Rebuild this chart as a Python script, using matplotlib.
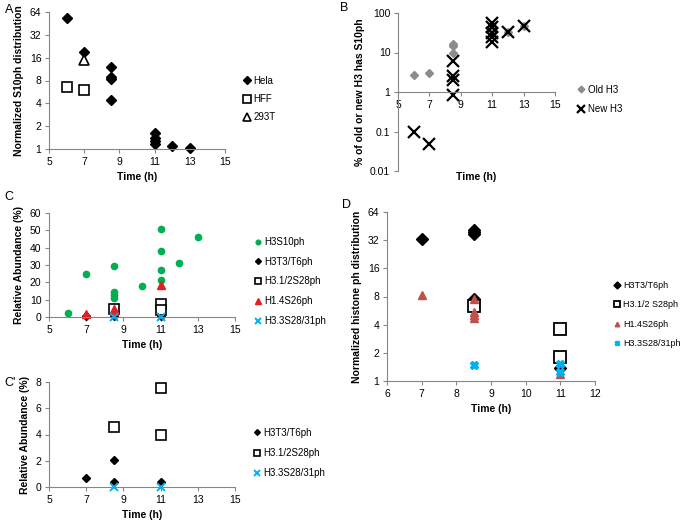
import numpy as np
import matplotlib.pyplot as plt
from matplotlib.ticker import FixedLocator, FixedFormatter, NullLocator

plt.rcParams['font.family'] = ['Liberation Sans', 'DejaVu Sans']
plt.rcParams['font.size'] = 7

# ---- panel A: normalized S10ph distribution
a_hela_t = [6, 7, 8.5, 8.5, 8.5, 8.5, 11, 11, 11, 11, 12, 13]
a_hela_y = [53, 19, 12.1, 9.0, 8.3, 4.45, 1.61, 1.41, 1.29, 1.15, 1.1, 1.03]
a_hff_t = [6, 7]
a_hff_y = [6.5, 6.0]
a_293t_t = [7]
a_293t_y = [14.7]

# ---- panel B: % of old or new H3 with S10ph
b_old_t = [6, 7, 8.5, 8.5, 8.5, 11, 11, 11, 12, 13]
b_old_y = [2.7, 3.0, 16.6, 14.8, 9.8, 50, 40, 30, 34, 46]
b_new_t = [6, 7, 8.5, 8.5, 8.5, 8.5, 11, 11, 11, 11, 11, 12, 13]
b_new_y = [0.10, 0.049, 6.1, 2.6, 2.0, 0.82, 55, 44, 31, 25, 18.4, 33, 46]

# ---- panel C / C': relative abundance (%)
c_s10_t = [6, 7, 8.5, 8.5, 8.5, 8.5, 10, 11, 11, 11, 11, 12, 13]
c_s10_y = [2.3, 24.9, 29.4, 14.2, 12.6, 11.1, 17.8, 50.5, 37.9, 27.4, 21.6, 31.4, 46.4]
c_t3_t = [7, 8.5, 8.5, 11]
c_t3_y = [0.66, 2.03, 0.38, 0.38]
c_s28_t = [8.5, 11, 11]
c_s28_y = [4.55, 7.57, 3.96]
c_h1_t = [7, 8.5, 8.5, 11]
c_h1_y = [1.6, 4.8, 3.2, 18.4]
c_h33_t = [8.5, 11]
c_h33_y = [0.02, 0.02]

# ---- panel D: normalized histone ph distribution
d_t3_t = [7, 8.5, 8.5, 8.5, 8.5, 11]
d_t3_y = [33, 41, 39, 37, 7.5, 1.39]
d_s28_t = [8.5, 11, 11]
d_s28_y = [6.4, 3.6, 1.81]
d_h1_t = [7, 8.5, 8.5, 8.5, 8.5, 11]
d_h1_y = [8.3, 7.6, 5.5, 5.1, 4.66, 1.2]
d_h33_t = [8.5, 11, 11]
d_h33_y = [1.48, 1.53, 1.25]

pow2_ticks = [1, 2, 4, 8, 16, 32, 64]

GREEN = '#00b050'
RED = '#e31e24'
DRED = '#c0504d'
BLUE = '#00b0f0'
GRAY = '#8c8c8c'
SPINE = '#868686'

fig = plt.figure(figsize=(6.83, 5.23), dpi=100)
W, H = 683.0, 523.0


def add_axes(x0, x1, ytop, ybot):
    ax = fig.add_axes([x0 / W, 1 - ybot / H, (x1 - x0) / W, (ybot - ytop) / H])
    for s in ['top', 'right']:
        ax.spines[s].set_visible(False)
    for s in ['left', 'bottom']:
        ax.spines[s].set_color(SPINE)
        ax.spines[s].set_linewidth(0.8)
    ax.tick_params(direction='out', length=3, width=0.8, color=SPINE,
                   labelsize=7.5, pad=2.5)
    return ax


def set_log_ticks(ax, ticks, labels):
    ax.yaxis.set_major_locator(FixedLocator(ticks))
    ax.yaxis.set_major_formatter(FixedFormatter(labels))
    ax.yaxis.set_minor_locator(NullLocator())


def legend(ax, xl, yc, spacing=0.95, fs=7, mscale=0.75):
    ax.legend(loc='center left', bbox_to_anchor=(xl / W, 1 - yc / H),
              bbox_transform=fig.transFigure, frameon=False, fontsize=fs,
              handlelength=0.9, handletextpad=0.2, labelspacing=spacing,
              borderpad=0, borderaxespad=0, markerscale=mscale)


# A
ax = add_axes(49, 225, 12, 149)
ax.set_yscale('log', base=2)
ax.plot(a_hela_t, a_hela_y, 'D', color='black', ms=5.5, ls='none', label='Hela', clip_on=False)
ax.plot(a_hff_t, a_hff_y, 's', mfc='white', mec='black', mew=1.2, ms=7.5, ls='none', label='HFF', clip_on=False)
ax.plot(a_293t_t, a_293t_y, '^', mfc='white', mec='black', mew=1.2, ms=7.5, ls='none', label='293T', clip_on=False)
ax.set_xlim(5, 15)
ax.set_xticks([5, 7, 9, 11, 13, 15])
ax.set_ylim(1, 64)
set_log_ticks(ax, pow2_ticks, [str(v) for v in pow2_ticks])
ax.set_xlabel('Time (h)', fontweight='bold', fontsize=7.5)
ax.set_ylabel('Normalized S10ph distribution', fontweight='bold', fontsize=7.5)
legend(ax, 243, 99, 0.85)

# B
ax = add_axes(398, 555, 13, 171)
ax.set_yscale('log')
ax.plot(b_old_t, b_old_y, 'D', color=GRAY, ms=4.5, ls='none', label='Old H3', clip_on=False)
ax.plot(b_new_t, b_new_y, 'x', color='black', mew=1.6, ms=8, ls='none', label='New H3', clip_on=False)
ax.set_xlim(5, 15)
ax.set_xticks([5, 7, 9, 11, 13, 15])
ax.set_ylim(0.01, 100)
set_log_ticks(ax, [0.01, 0.1, 1, 10, 100], ['0.01', '0.1', '1', '10', '100'])
ax.spines['bottom'].set_position(('data', 1))
ax.set_xlabel('Time (h)', fontweight='bold', fontsize=7.5, va='top')
ax.xaxis.set_label_coords(0.5, -0.005)
ax.set_ylabel('% of old or new H3 has S10ph', fontweight='bold', fontsize=7.5)
legend(ax, 577, 99.5, 0.95)

# C
ax = add_axes(49, 235, 213, 317)
ax.plot(c_s10_t, c_s10_y, 'o', color=GREEN, ms=4.5, ls='none', label='H3S10ph', clip_on=False)
ax.plot(c_t3_t, c_t3_y, 'D', color='black', ms=4, ls='none', label='H3T3/T6ph', clip_on=False)
ax.plot(c_s28_t, c_s28_y, 's', mfc='white', mec='black', mew=1.2, ms=6.5, ls='none', label='H3.1/2S28ph', clip_on=False)
ax.plot(c_h1_t, c_h1_y, '^', color=RED, ms=5.5, ls='none', label='H1.4S26ph', clip_on=False)
ax.plot(c_h33_t, c_h33_y, 'x', color=BLUE, mew=1.4, ms=6, ls='none', label='H3.3S28/31ph', clip_on=False)
ax.set_xlim(5, 15)
ax.set_xticks([5, 7, 9, 11, 13, 15])
ax.set_ylim(0, 60)
ax.set_yticks(np.arange(0, 61, 10))
ax.set_xlabel('Time (h)', fontweight='bold', fontsize=7.5)
ax.set_ylabel('Relative Abundance (%)', fontweight='bold', fontsize=7.5)
legend(ax, 254, 281.5, 1.0)

# C'
ax = add_axes(49, 235, 382, 487)
ax.plot(c_t3_t, c_t3_y, 'D', color='black', ms=4.5, ls='none', label='H3T3/T6ph', clip_on=False)
ax.plot(c_s28_t, c_s28_y, 's', mfc='white', mec='black', mew=1.2, ms=7.5, ls='none', label='H3.1/2S28ph', clip_on=False)
ax.plot(c_h33_t, c_h33_y, 'x', color=BLUE, mew=1.4, ms=6, ls='none', label='H3.3S28/31ph', clip_on=False)
ax.set_xlim(5, 15)
ax.set_xticks([5, 7, 9, 11, 13, 15])
ax.set_ylim(0, 8)
ax.set_yticks([0, 2, 4, 6, 8])
ax.set_xlabel('Time (h)', fontweight='bold', fontsize=7.5)
ax.set_ylabel('Relative Abundance (%)', fontweight='bold', fontsize=7.5)
legend(ax, 253, 453, 1.05, mscale=0.65)

# D
ax = add_axes(387, 595, 212, 381)
ax.set_yscale('log', base=2)
ax.plot(d_t3_t, d_t3_y, 'D', color='black', ms=6.5, ls='none', label='H3T3/T6ph', clip_on=False)
ax.plot(d_s28_t, d_s28_y, 's', mfc='white', mec='black', mew=1.3, ms=8, ls='none', label='H3.1/2 S28ph', clip_on=False)
ax.plot(d_h1_t, d_h1_y, '^', color=DRED, ms=6, ls='none', label='H1.4S26ph', clip_on=False)
ax.plot(d_h33_t, d_h33_y, 'X', color=BLUE, ms=6, ls='none', label='H3.3S28/31ph', clip_on=False)
ax.set_xlim(6, 12)
ax.set_xticks(range(6, 13))
ax.set_ylim(1, 64)
set_log_ticks(ax, pow2_ticks, [str(v) for v in pow2_ticks])
ax.set_xlabel('Time (h)', fontweight='bold', fontsize=7.5)
ax.set_ylabel('Normalized histone ph distribution', fontweight='bold', fontsize=7.5)
legend(ax, 613, 314.5, 1.15, fs=6.5, mscale=0.55)

# panel letters
for lbl, px, py in [('A', 5, 10), ('B', 340, 8), ('C', 4, 197), ("C'", 4, 383), ('D', 342, 205)]:
    fig.text(px / W, 1 - py / H, lbl, fontsize=9, va='center', ha='left')

fig.savefig('out.png', dpi=100)
